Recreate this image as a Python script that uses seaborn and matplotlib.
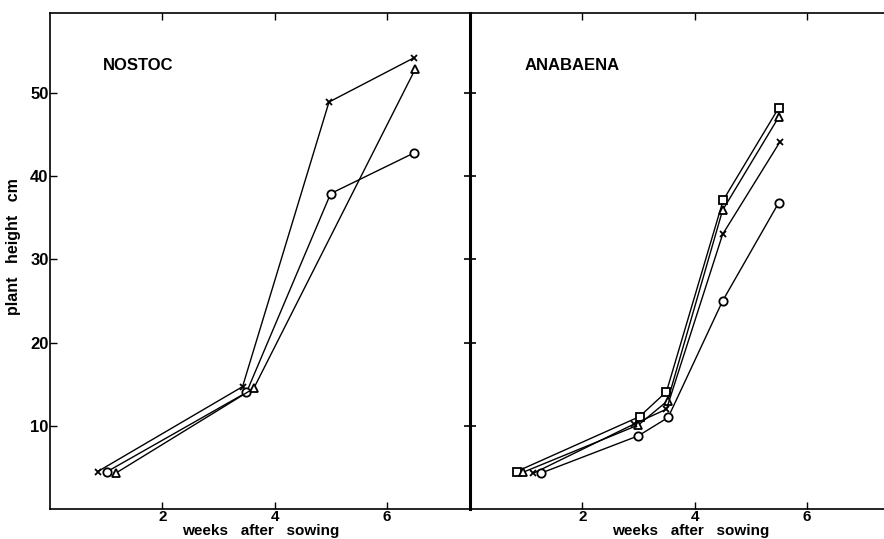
import matplotlib
matplotlib.use("Agg")
import matplotlib.pyplot as plt
import seaborn as sns
import pandas as pd

sns.set_style("ticks")
plt.rcParams['font.family'] = ['Liberation Sans', 'DejaVu Sans']
plt.rcParams['font.weight'] = 'bold'
plt.rcParams['text.color'] = 'black'
plt.rcParams['xtick.color'] = 'black'
plt.rcParams['ytick.color'] = 'black'
plt.rcParams['axes.labelcolor'] = 'black'

# NOSTOC panel (weeks, plant height cm)
nostoc_cross_x = [0.85, 3.43, 4.97, 6.48]
nostoc_cross_y = [4.5, 14.7, 48.9, 54.2]
nostoc_circle_x = [1.02, 3.50, 5.00, 6.49]
nostoc_circle_y = [4.5, 14.0, 37.9, 42.8]
nostoc_tri_x = [1.17, 3.63, 6.51]
nostoc_tri_y = [4.3, 14.5, 52.9]

# ANABAENA panel
anab_square_x = [0.83, 3.02, 3.50, 4.51, 5.50]
anab_square_y = [4.5, 11.1, 14.1, 37.1, 48.2]
anab_tri_x = [0.94, 3.00, 3.52, 4.50, 5.50]
anab_tri_y = [4.4, 10.1, 13.0, 35.9, 47.1]
anab_cross_x = [1.13, 2.92, 3.50, 4.50, 5.52]
anab_cross_y = [4.3, 10.2, 12.0, 33.0, 44.1]
anab_circle_x = [1.26, 3.00, 3.53, 4.50, 5.50]
anab_circle_y = [4.3, 8.8, 11.0, 25.0, 36.8]

y_ticks = [10, 20, 30, 40, 50]
x_ticks = [2, 4, 6]

fig = plt.figure(figsize=(8.84, 5.39), dpi=100)
ax1 = fig.add_axes([50 / 884, 30 / 539, 421 / 884, 496 / 539])
ax2 = fig.add_axes([470 / 884, 30 / 539, 421 / 884, 496 / 539])


def draw(ax, xs, ys, marker, size):
    df = pd.DataFrame({'x': xs, 'y': ys})
    sns.lineplot(data=df, x='x', y='y', ax=ax, sort=False, estimator=None,
                 color='black', linewidth=1.0, marker=marker, markersize=size,
                 markerfacecolor='white', markeredgecolor='black',
                 markeredgewidth=1.3, zorder=3)


draw(ax1, nostoc_cross_x, nostoc_cross_y, 'x', 4.5)
draw(ax1, nostoc_circle_x, nostoc_circle_y, 'o', 6)
draw(ax1, nostoc_tri_x, nostoc_tri_y, '^', 6)

draw(ax2, anab_square_x, anab_square_y, 's', 6)
draw(ax2, anab_tri_x, anab_tri_y, '^', 6)
draw(ax2, anab_cross_x, anab_cross_y, 'x', 4.5)
draw(ax2, anab_circle_x, anab_circle_y, 'o', 6)

for ax in (ax1, ax2):
    ax.set_xlim(0, 7.5)
    ax.set_ylim(0, 59.6)
    ax.set_xticks(x_ticks)
    ax.set_yticks(y_ticks)
    ax.tick_params(axis='x', direction='in', top=True, length=5, width=1,
                   labelsize=11, pad=0.5)
    for s in ax.spines.values():
        s.set_color('black')
        s.set_linewidth(1.2)
    ax.set_xlabel('weeks   after   sowing', fontsize=11, fontweight='bold')

ax1.spines['right'].set_visible(False)
ax1.tick_params(axis='y', direction='in', length=5, width=1, labelsize=12, pad=1)
ax1.set_ylabel('plant   height   cm', fontsize=11.5, fontweight='bold')
ax1.yaxis.set_label_coords(-0.07, 0.53)
ax1.xaxis.set_label_coords(0.5, -0.03)

ax2.set_ylabel('')
ax2.spines['left'].set_linewidth(2.2)
ax2.tick_params(axis='y', direction='inout', length=9, width=1.2,
                labelleft=False)
ax2.xaxis.set_label_coords(0.525, -0.03)

ax1.text(0.125, 0.895, 'NOSTOC', transform=ax1.transAxes, fontsize=12,
         fontweight='bold', va='center')
ax2.text(0.13, 0.895, 'ANABAENA', transform=ax2.transAxes, fontsize=12,
         fontweight='bold', va='center')

fig.savefig('out.png', dpi=100)
